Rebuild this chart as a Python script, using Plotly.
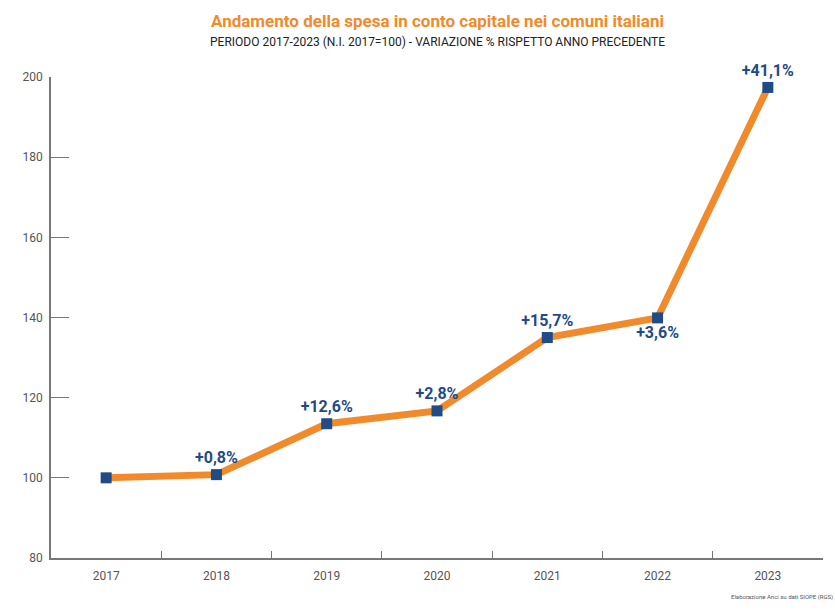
import plotly.graph_objects as go

# Spesa in conto capitale dei comuni, numero indice 2017 = 100
years = ["2017", "2018", "2019", "2020", "2021", "2022", "2023"]
index_values = [100, 100.8, 113.5, 116.7, 135.0, 139.9, 197.4]
change_labels = ["", "+0,8%", "+12,6%", "+2,8%", "+15,7%", "+3,6%", "+41,1%"]
y_ticks = [80, 100, 120, 140, 160, 180, 200]

ORANGE = "#F18A2B"
BLUE = "#1F4B87"
GREY = "#555555"

label_positions = ["top center", "top center", "top center", "top center",
                   "top center", "bottom center", "top center"]

fig = go.Figure()
fig.add_trace(go.Scatter(
    x=years, y=index_values,
    mode="lines+markers+text",
    line=dict(color=ORANGE, width=7),
    marker=dict(symbol="square", size=11, color=BLUE),
    text=change_labels,
    textposition=label_positions,
    textfont=dict(family="Roboto", size=16, color=BLUE, weight="bold"),
    cliponaxis=False,
    hoverinfo="x+y",
))

fig.update_layout(
    width=835, height=614,
    margin=dict(l=51, r=12, t=77, b=56),
    paper_bgcolor="white", plot_bgcolor="white",
    showlegend=False,
    font=dict(family="Roboto", color=GREY),
    xaxis=dict(
        type="category", range=[-0.5, 6.5],
        showline=True, linecolor="#777777", linewidth=1.5,
        tickson="boundaries", ticks="inside", ticklen=7,
        tickcolor="#777777", showgrid=False,
        tickfont=dict(size=12, color=GREY),
        ticklabelstandoff=6,
    ),
    yaxis=dict(
        range=[80, 200], tickvals=y_ticks,
        showline=True, linecolor="#777777", linewidth=1.5,
        ticks="inside", ticklen=18, tickcolor="#777777",
        showgrid=False, zeroline=False,
        tickfont=dict(size=12, color=GREY),
        ticklabelstandoff=4,
    ),
    annotations=[
        dict(text="<b>Andamento della spesa in conto capitale nei comuni italiani</b>",
             xref="paper", yref="paper", x=0.5, y=1, yshift=68,
             showarrow=False, font=dict(size=17, color=ORANGE)),
        dict(text="PERIODO 2017-2023 (N.I. 2017=100) - VARIAZIONE % RISPETTO ANNO PRECEDENTE",
             xref="paper", yref="paper", x=0.5, y=1, yshift=44,
             showarrow=False, font=dict(size=12, color="#222222")),
        dict(text="Elaborazione Anci su dati SIOPE (RGS)",
             xref="paper", yref="paper", x=1.015, y=0, yshift=-45,
             xanchor="right", showarrow=False, font=dict(size=6, color=GREY)),
    ],
)

fig.write_html("out.html")
